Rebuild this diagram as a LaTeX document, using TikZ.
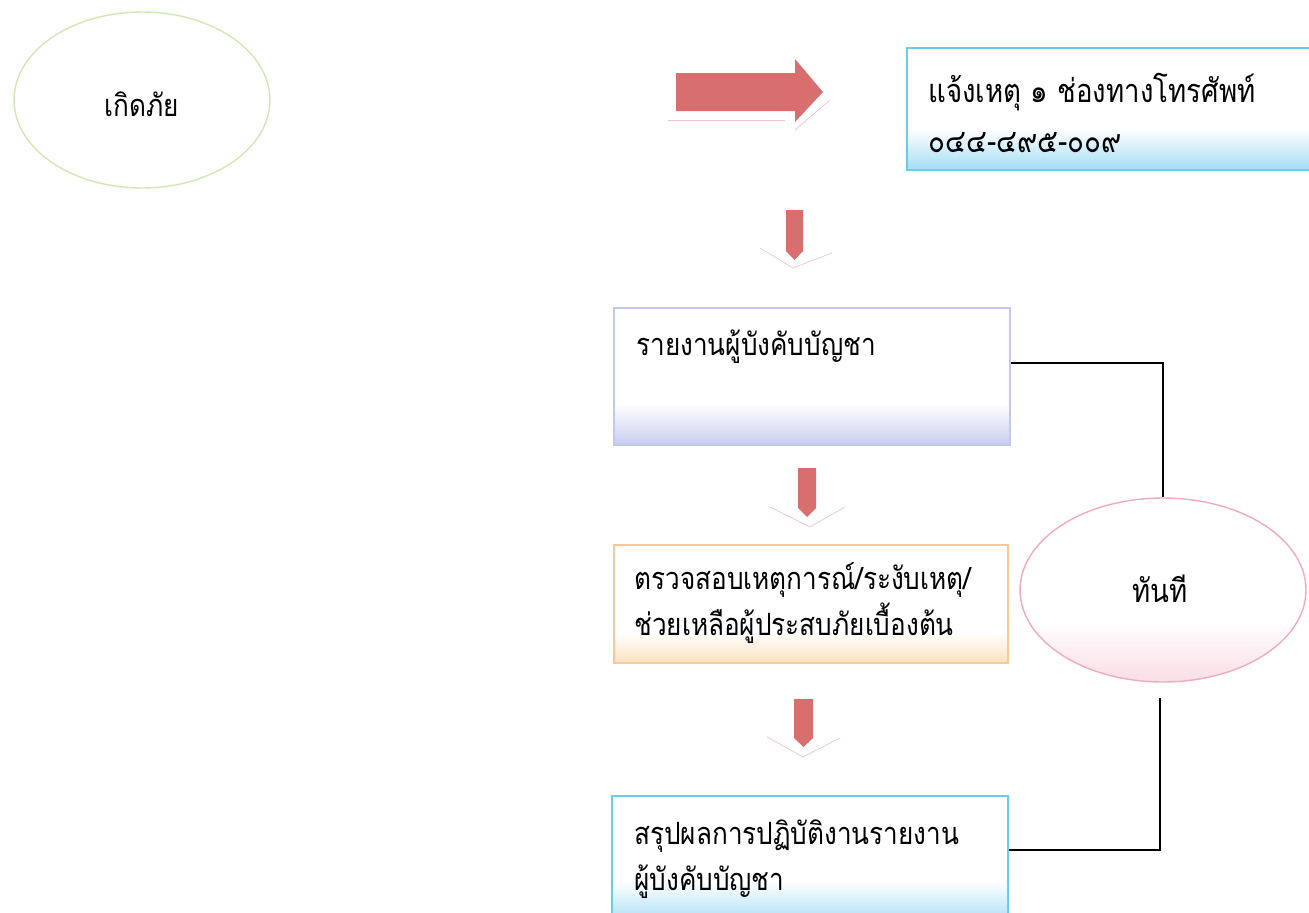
\documentclass[tikz,border=0pt]{standalone}
\usepackage{fontspec}
\newfontfamily\thaifont[Script=Thai, FakeStretch=0.85]{Loma}
\usetikzlibrary{shapes.geometric}
\definecolor{arrowred}{RGB}{217,110,110}
\definecolor{ghostred}{RGB}{240,195,205}
\definecolor{skyline}{RGB}{105,205,238}
\definecolor{skyfill}{RGB}{165,220,245}
\definecolor{lavline}{RGB}{195,200,240}
\definecolor{lavfill}{RGB}{200,205,240}
\definecolor{orgline}{RGB}{250,200,150}
\definecolor{orgfill}{RGB}{252,225,190}
\definecolor{grnline}{RGB}{210,232,180}
\definecolor{pnkline}{RGB}{242,170,190}
\definecolor{pnkfill}{RGB}{250,222,230}
\pgfdeclareverticalshading{skyshade}{100bp}{color(0bp)=(skyfill); color(25bp)=(skyfill); color(42bp)=(white); color(100bp)=(white)}
\pgfdeclareverticalshading{lavshade}{100bp}{color(0bp)=(lavfill); color(25bp)=(lavfill); color(40bp)=(white); color(100bp)=(white)}
\pgfdeclareverticalshading{orgshade}{100bp}{color(0bp)=(orgfill); color(25bp)=(orgfill); color(38bp)=(white); color(100bp)=(white)}
\pgfdeclareverticalshading{pnkshade}{100bp}{color(0bp)=(pnkfill); color(25bp)=(pnkfill); color(42bp)=(white); color(100bp)=(white)}
\tikzset{
skybox/.style={rectangle, draw=skyline, thick, shading=skyshade, inner sep=0pt},
lavbox/.style={rectangle, draw=lavline, thick, shading=lavshade, inner sep=0pt, minimum width=7.92cm, minimum height=2.74cm},
orgbox/.style={rectangle, draw=orgline, thick, shading=orgshade, inner sep=0pt, minimum width=7.88cm, minimum height=2.36cm},
grnellipse/.style={ellipse, draw=grnline, thick, fill=white, inner sep=0pt, minimum width=5.12cm, minimum height=3.52cm},
pnkellipse/.style={ellipse, draw=pnkline, thick, shading=pnkshade, inner sep=0pt, minimum width=5.72cm, minimum height=3.68cm},
boxtext/.style={anchor=west, align=left, inner sep=0pt, font=\thaifont\fontsize{17.5}{26}\selectfont},
bigtext/.style={boxtext, font=\thaifont\fontsize{18.5}{27}\selectfont},
redarrow/.style={fill=arrowred, draw=none},
ghostline/.style={draw=ghostred, thin},
linkline/.style={draw=black, thick},
}
\begin{document}
\begin{tikzpicture}[x=0.02cm, y=-0.02cm]
    \useasboundingbox (0,0) rectangle (1309,913);
    \node[grnellipse] at (142,100) (start) {};
    \node[boxtext, anchor=center] at (142,104) (starttext) {เกิดภัย};
    \node[skybox, minimum width=8.26cm, minimum height=2.44cm] at (1113.5,109) (tel) {};
    \node[bigtext] at (928,113) (teltext) {แจ้งเหตุ ๑ ช่องทางโทรศัพท์\\[1pt]๐๔๔-๔๙๕-๐๐๙};
    \node[lavbox] at (812,376.5) (report) {};
    \node[boxtext] at (636,347) (reporttext) {รายงานผู้บังคับบัญชา};
    \node[orgbox] at (811,604) (check) {};
    \node[boxtext] at (634,603) (checktext) {ตรวจสอบเหตุการณ์/ระงับเหตุ/\\ช่วยเหลือผู้ประสบภัยเบื้องต้น};
    \node[skybox, minimum width=7.92cm, minimum height=2.58cm] at (810,860.5) (summary) {};
    \node[boxtext] at (634,859) (summarytext) {สรุปผลการปฏิบัติงานรายงาน\\ผู้บังคับบัญชา};
    \node[pnkellipse] at (1163,590) (now) {};
    \node[bigtext, anchor=center] at (1160,589) (nowtext) {ทันที};
    \coordinate (nowend) at (1160,698);
     % block arrows
     \fill[redarrow] (676,73) -- (795,73) -- (795,59) -- (823,92) -- (795,122) -- (795,111) -- (676,111) -- cycle;
     \draw[ghostline] (668,120) -- (785,120);
     \draw[ghostline] (795,130) -- (830,100);
     \fill[redarrow] (786,210) -- (803,210) -- (803,251) -- (794.5,260) -- (786,251) -- cycle;
     \draw[ghostline] (760,248) -- (793,268) -- (832,253);
     \fill[redarrow] (798,468) -- (816,468) -- (816,508) -- (807,517) -- (798,508) -- cycle;
     \draw[ghostline] (770,507) -- (810,527) -- (845,507);
     \fill[redarrow] (794,699) -- (813,699) -- (813,738) -- (803.5,747) -- (794,738) -- cycle;
     \draw[ghostline] (767,737) -- (803,757) -- (840,738);
     % links to the ellipse
     \draw[linkline] ([yshift=.27cm]report.east) -| (now.north);
     \draw[linkline] ([yshift=.21cm]summary.east) -| (nowend);
\end{tikzpicture}
\end{document}
